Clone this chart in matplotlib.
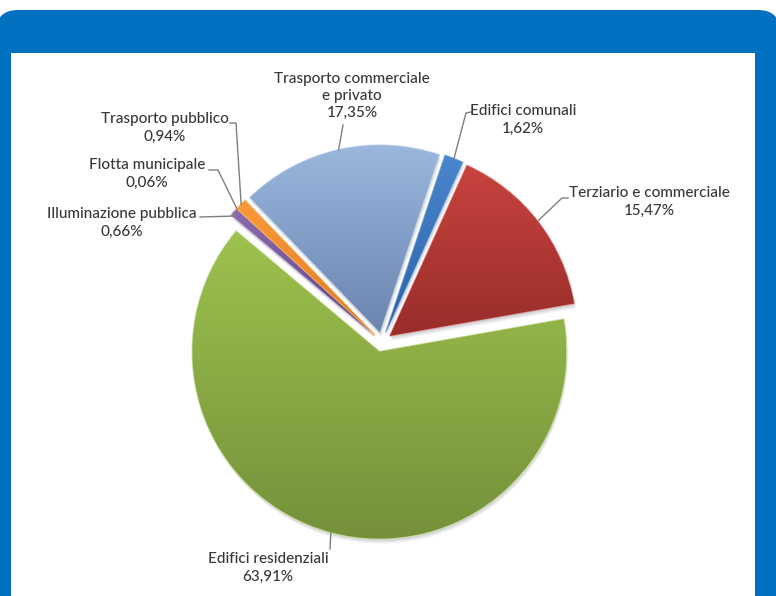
import numpy as np
import matplotlib.pyplot as plt
from matplotlib.colors import to_rgb
from matplotlib.patches import FancyBboxPatch, Rectangle

W, H = 776, 596

# slices in drawing order (clockwise)
labels = ["Edifici comunali", "Terziario e commerciale", "Edifici residenziali",
          "Illuminazione pubblica", "Flotta municipale", "Trasporto pubblico",
          "Trasporto commerciale\ne privato"]
shares = [1.62, 15.47, 63.91, 0.66, 0.06, 0.94, 17.35]
pct_text = ["1,62%", "15,47%", "63,91%", "0,66%", "0,06%", "0,94%", "17,35%"]

light = ["#4a86cc", "#c8433e", "#9dc24e", "#8b6bb0", "#fa9a3c", "#fa9a3c", "#9ab7de"]
dark = ["#2c63a8", "#982d2a", "#74913a", "#5e4684", "#e27a1a", "#e27a1a", "#6b85ae"]

# label centres (x, y from top) and leader line elbow -> end near text
label_xy = [(523, 120), (649, 202), (268, 568), (122, 223), (147, 174), (165, 128), (352, 96)]
leader_pts = [[(466, 113), (471, 112)],
              [(562, 198), (568, 198)],
              [(330, 549)],
              [(236, 216), (200, 217)],
              [(218, 170), (209, 170)],
              [(236, 123), (230, 123)],
              [(343, 125)]]

plt.rcParams['font.family'] = ['Lato', 'DejaVu Sans']

fig = plt.figure(figsize=(W / 100, H / 100), dpi=100)
ax = fig.add_axes([0, 0, 1, 1])
ax.axis('off')

# blue frame with white panel
ax.add_patch(FancyBboxPatch((-4, -40), W + 8, H - 10 + 40, boxstyle="round,pad=0,rounding_size=22",
                            facecolor="#0070c0", edgecolor="none", zorder=0))
ax.add_patch(Rectangle((11, -5), 755 - 11, H - 53 + 5, facecolor="white", edgecolor="none", zorder=1))

cx, cy = 382, H - 342
radius = 187
explode = [10] * len(shares)  # pixels, since the axes are in pixel units

# soft shadow under the pie
for off, a in [(5, 0.05), (4, 0.06), (3, 0.07), (2, 0.07)]:
    sh, _ = ax.pie(shares, radius=radius, center=(cx + off * 0.3, cy - off), startangle=71.5,
                   counterclock=False, explode=explode, wedgeprops=dict(linewidth=0))
    for w in sh:
        w.set_facecolor((0.3, 0.3, 0.3, a))
        w.set_zorder(2)

wedges, _ = ax.pie(shares, radius=radius, center=(cx, cy), startangle=71.5,
                   counterclock=False, explode=explode,
                   wedgeprops=dict(linewidth=1.2))

for w, c1, c2 in zip(wedges, light, dark):
    w.set_facecolor(c2)
    w.set_edgecolor(tuple(0.55 * np.array(to_rgb(c1)) + 0.45))
    w.set_zorder(3)
    # vertical gradient clipped to the wedge
    ext = w.get_path().get_extents(w.get_patch_transform())
    t = np.linspace(0, 1, 200)[:, None]
    grad = (1 - t) * np.array(to_rgb(c1)) + t * np.array(to_rgb(c2))
    im = ax.imshow(grad[:, None, :], extent=(ext.x0, ext.x1, ext.y0, ext.y1),
                   origin='upper', aspect='auto', interpolation='bilinear', zorder=3.5)
    im.set_clip_path(w)

ax.set_xlim(0, W)
ax.set_ylim(0, H)
ax.set_aspect('equal')

txt_color = "#383838"
for w, lab, pct, (tx, ty), pts in zip(wedges, labels, pct_text, label_xy, leader_pts):
    ang = np.deg2rad((w.theta1 + w.theta2) / 2)
    wx, wy = w.center
    ax_pt = (wx + radius * np.cos(ang), wy + radius * np.sin(ang))
    xs = [ax_pt[0]] + [p[0] for p in pts]
    ys = [ax_pt[1]] + [H - p[1] for p in pts]
    ax.plot(xs, ys, color="#7f7f7f", linewidth=1.0, zorder=5)
    ax.text(tx, H - ty, lab + "\n" + pct, ha='center', va='center', fontsize=11,
            fontweight='medium', color=txt_color, linespacing=1.3, zorder=6)

fig.savefig("out.png", dpi=100)
